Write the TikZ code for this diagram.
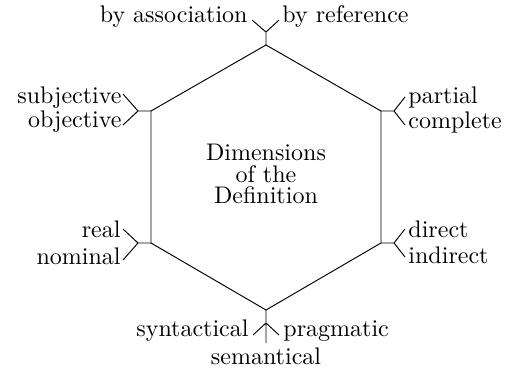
\documentclass[tikz,border=0pt]{standalone}
\begin{document}
\begin{tikzpicture}[x=0.4167pt,y=-0.4167pt,line width=0.4pt,
  lbl/.style={inner sep=0pt,font=\normalsize},
  ln/.style={draw=black}]
\useasboundingbox (0,0) rectangle (507,377);
% hexagon vertices
\coordinate (T) at (266,45);
\coordinate (UR) at (381,111);
\coordinate (LR) at (381,243);
\coordinate (B) at (266,310);
\coordinate (LL) at (151,243);
\coordinate (UL) at (151,111);
\draw[ln] (T) -- (UR) -- (LR) -- (B) -- (LL) -- (UL) -- cycle;
% forks
\coordinate (Tf) at (266,32);
\coordinate (ULf) at (138,111);
\coordinate (URf) at (394,111);
\coordinate (LLf) at (138,243);
\coordinate (LRf) at (394,243);
\coordinate (Bf) at (266,323);
% arm ends
\coordinate (Ta) at (252,20);
\coordinate (Tb) at (279,20);
\coordinate (ULa) at (123,94);
\coordinate (ULb) at (123,125);
\coordinate (URa) at (405,97);
\coordinate (URb) at (405,125);
\coordinate (LLa) at (123,229);
\coordinate (LLb) at (123,260);
\coordinate (LRa) at (405,229);
\coordinate (LRb) at (405,257);
\coordinate (Ba) at (253,335);
\coordinate (Bb) at (266,343);
\coordinate (Bc) at (279,335);
\draw[ln] (T) -- (Tf) (Tf) -- (Ta) (Tf) -- (Tb);
\draw[ln] (UL) -- (ULf) (ULf) -- (ULa) (ULf) -- (ULb);
\draw[ln] (UR) -- (URf) (URf) -- (URa) (URf) -- (URb);
\draw[ln] (LL) -- (LLf) (LLf) -- (LLa) (LLf) -- (LLb);
\draw[ln] (LR) -- (LRf) (LRf) -- (LRa) (LRf) -- (LRb);
\draw[ln] (B) -- (Bf) (Bf) -- (Ba) (Bf) -- (Bb) (Bf) -- (Bc);
% labels
\node[lbl,anchor=east] (l1) at (248,17) {by association};
\node[lbl,anchor=west] (l2) at (282,17) {by reference};
\node[lbl,anchor=east] (l3) at (122,98) {subjective};
\node[lbl,anchor=east] (l4) at (122,122) {objective};
\node[lbl,anchor=west] (l5) at (408,98) {partial};
\node[lbl,anchor=west] (l6) at (408,123) {complete};
\node[lbl,anchor=east] (l7) at (121,229) {real};
\node[lbl,anchor=east] (l8) at (121,256) {nominal};
\node[lbl,anchor=west] (l9) at (408,229) {direct};
\node[lbl,anchor=west] (l10) at (408,255) {indirect};
\node[lbl,anchor=east] (l11) at (249,331) {syntactical};
\node[lbl,anchor=west] (l12) at (283,331) {pragmatic};
\node[lbl] (l13) at (266,356) {semantical};
\node[lbl,align=center] (c) at (266,174) {Dimensions\\[-3pt]of the\\[-3pt]Definition};
\end{tikzpicture}
\end{document}
